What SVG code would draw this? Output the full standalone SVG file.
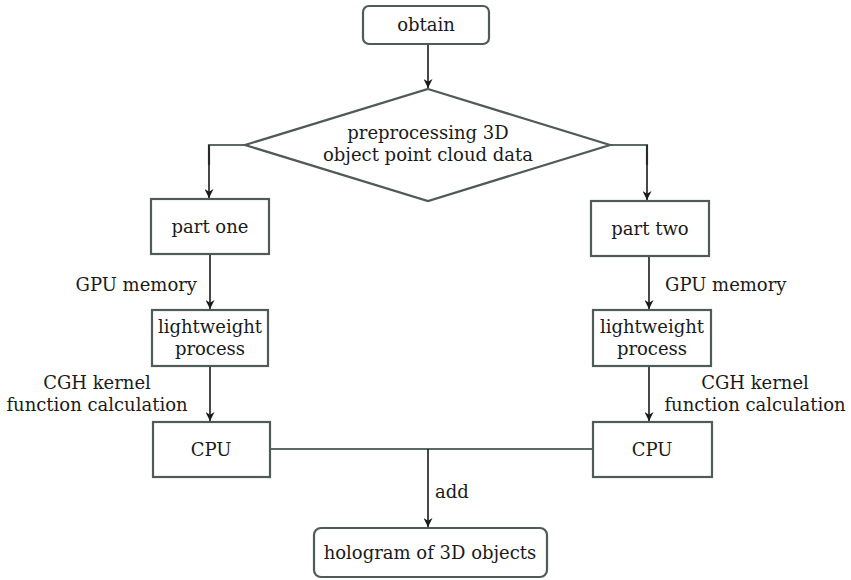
<svg xmlns="http://www.w3.org/2000/svg" width="851" height="580" viewBox="0 0 851 580">
<defs>
<marker id="arr" viewBox="0 0 10 10" refX="10" refY="5" markerWidth="9" markerHeight="9" markerUnits="userSpaceOnUse" orient="auto">
<path d="M0,0 L10,5 L0,10 L3,5 Z" fill="#1a1a1a"/>
</marker>
<style>
.box{fill:#fff;stroke:#4f5b58;stroke-width:2.2}
text{font-family:'DejaVu Serif',serif;font-size:18px;fill:#1a1a1a}
.t{text-anchor:middle}
.arrow{fill:none;stroke:#1a1a1a;stroke-width:1.6;marker-end:url(#arr)}
.plain{fill:none;stroke:#5b6b67;stroke-width:2.2}
</style>
</defs>
<rect width="851" height="580" fill="#fff"/>
<g id="connectors">
<line class="arrow" x1="428" y1="44" x2="428" y2="88"/>
<polyline class="plain" points="245,145 209,145 209,165"/>
<line class="arrow" x1="209" y1="145" x2="209" y2="198"/>
<polyline class="plain" points="610,145 647,145 647,165"/>
<line class="arrow" x1="647" y1="145" x2="647" y2="200"/>
<line class="arrow" x1="210" y1="254" x2="210" y2="309"/>
<line class="arrow" x1="649" y1="256" x2="649" y2="309"/>
<line class="arrow" x1="210" y1="366" x2="210" y2="421"/>
<line class="arrow" x1="649" y1="366" x2="649" y2="421"/>
<line class="plain" x1="270" y1="449" x2="593" y2="449"/>
<line class="arrow" x1="428" y1="449" x2="428" y2="527"/>
<text x="197" y="291" text-anchor="end">GPU memory</text>
<text x="665" y="291">GPU memory</text>
<text class="t" x="97" y="389">CGH kernel</text>
<text class="t" x="97" y="411">function calculation</text>
<text class="t" x="755" y="389">CGH kernel</text>
<text class="t" x="755" y="411">function calculation</text>
<text x="435" y="498">add</text>
</g>
<g id="obtain">
<rect class="box" x="363" y="6" width="126" height="38" rx="6"/>
<text class="t" x="426" y="31">obtain</text>
</g>
<g id="preprocess">
<polygon class="box" points="428,89 610,145 428,201 245,145"/>
<text class="t" x="428" y="139">preprocessing 3D</text>
<text class="t" x="428" y="161">object point cloud data</text>
</g>
<g id="part-one">
<rect class="box" x="151" y="199" width="118" height="55"/>
<text class="t" x="210" y="233">part one</text>
</g>
<g id="part-two">
<rect class="box" x="591" y="201" width="118" height="55"/>
<text class="t" x="650" y="235">part two</text>
</g>
<g id="lightweight-left">
<rect class="box" x="152" y="310" width="116" height="56"/>
<text class="t" x="210" y="333">lightweight</text>
<text class="t" x="210" y="355">process</text>
</g>
<g id="lightweight-right">
<rect class="box" x="593" y="310" width="118" height="56"/>
<text class="t" x="652" y="333">lightweight</text>
<text class="t" x="652" y="355">process</text>
</g>
<g id="cpu-left">
<rect class="box" x="153" y="422" width="117" height="55"/>
<text class="t" x="211" y="456">CPU</text>
</g>
<g id="cpu-right">
<rect class="box" x="593" y="422" width="119" height="55"/>
<text class="t" x="652" y="456">CPU</text>
</g>
<g id="hologram">
<rect class="box" x="314" y="528" width="233" height="49" rx="7"/>
<text class="t" x="430" y="559">hologram of 3D objects</text>
</g>
</svg>
